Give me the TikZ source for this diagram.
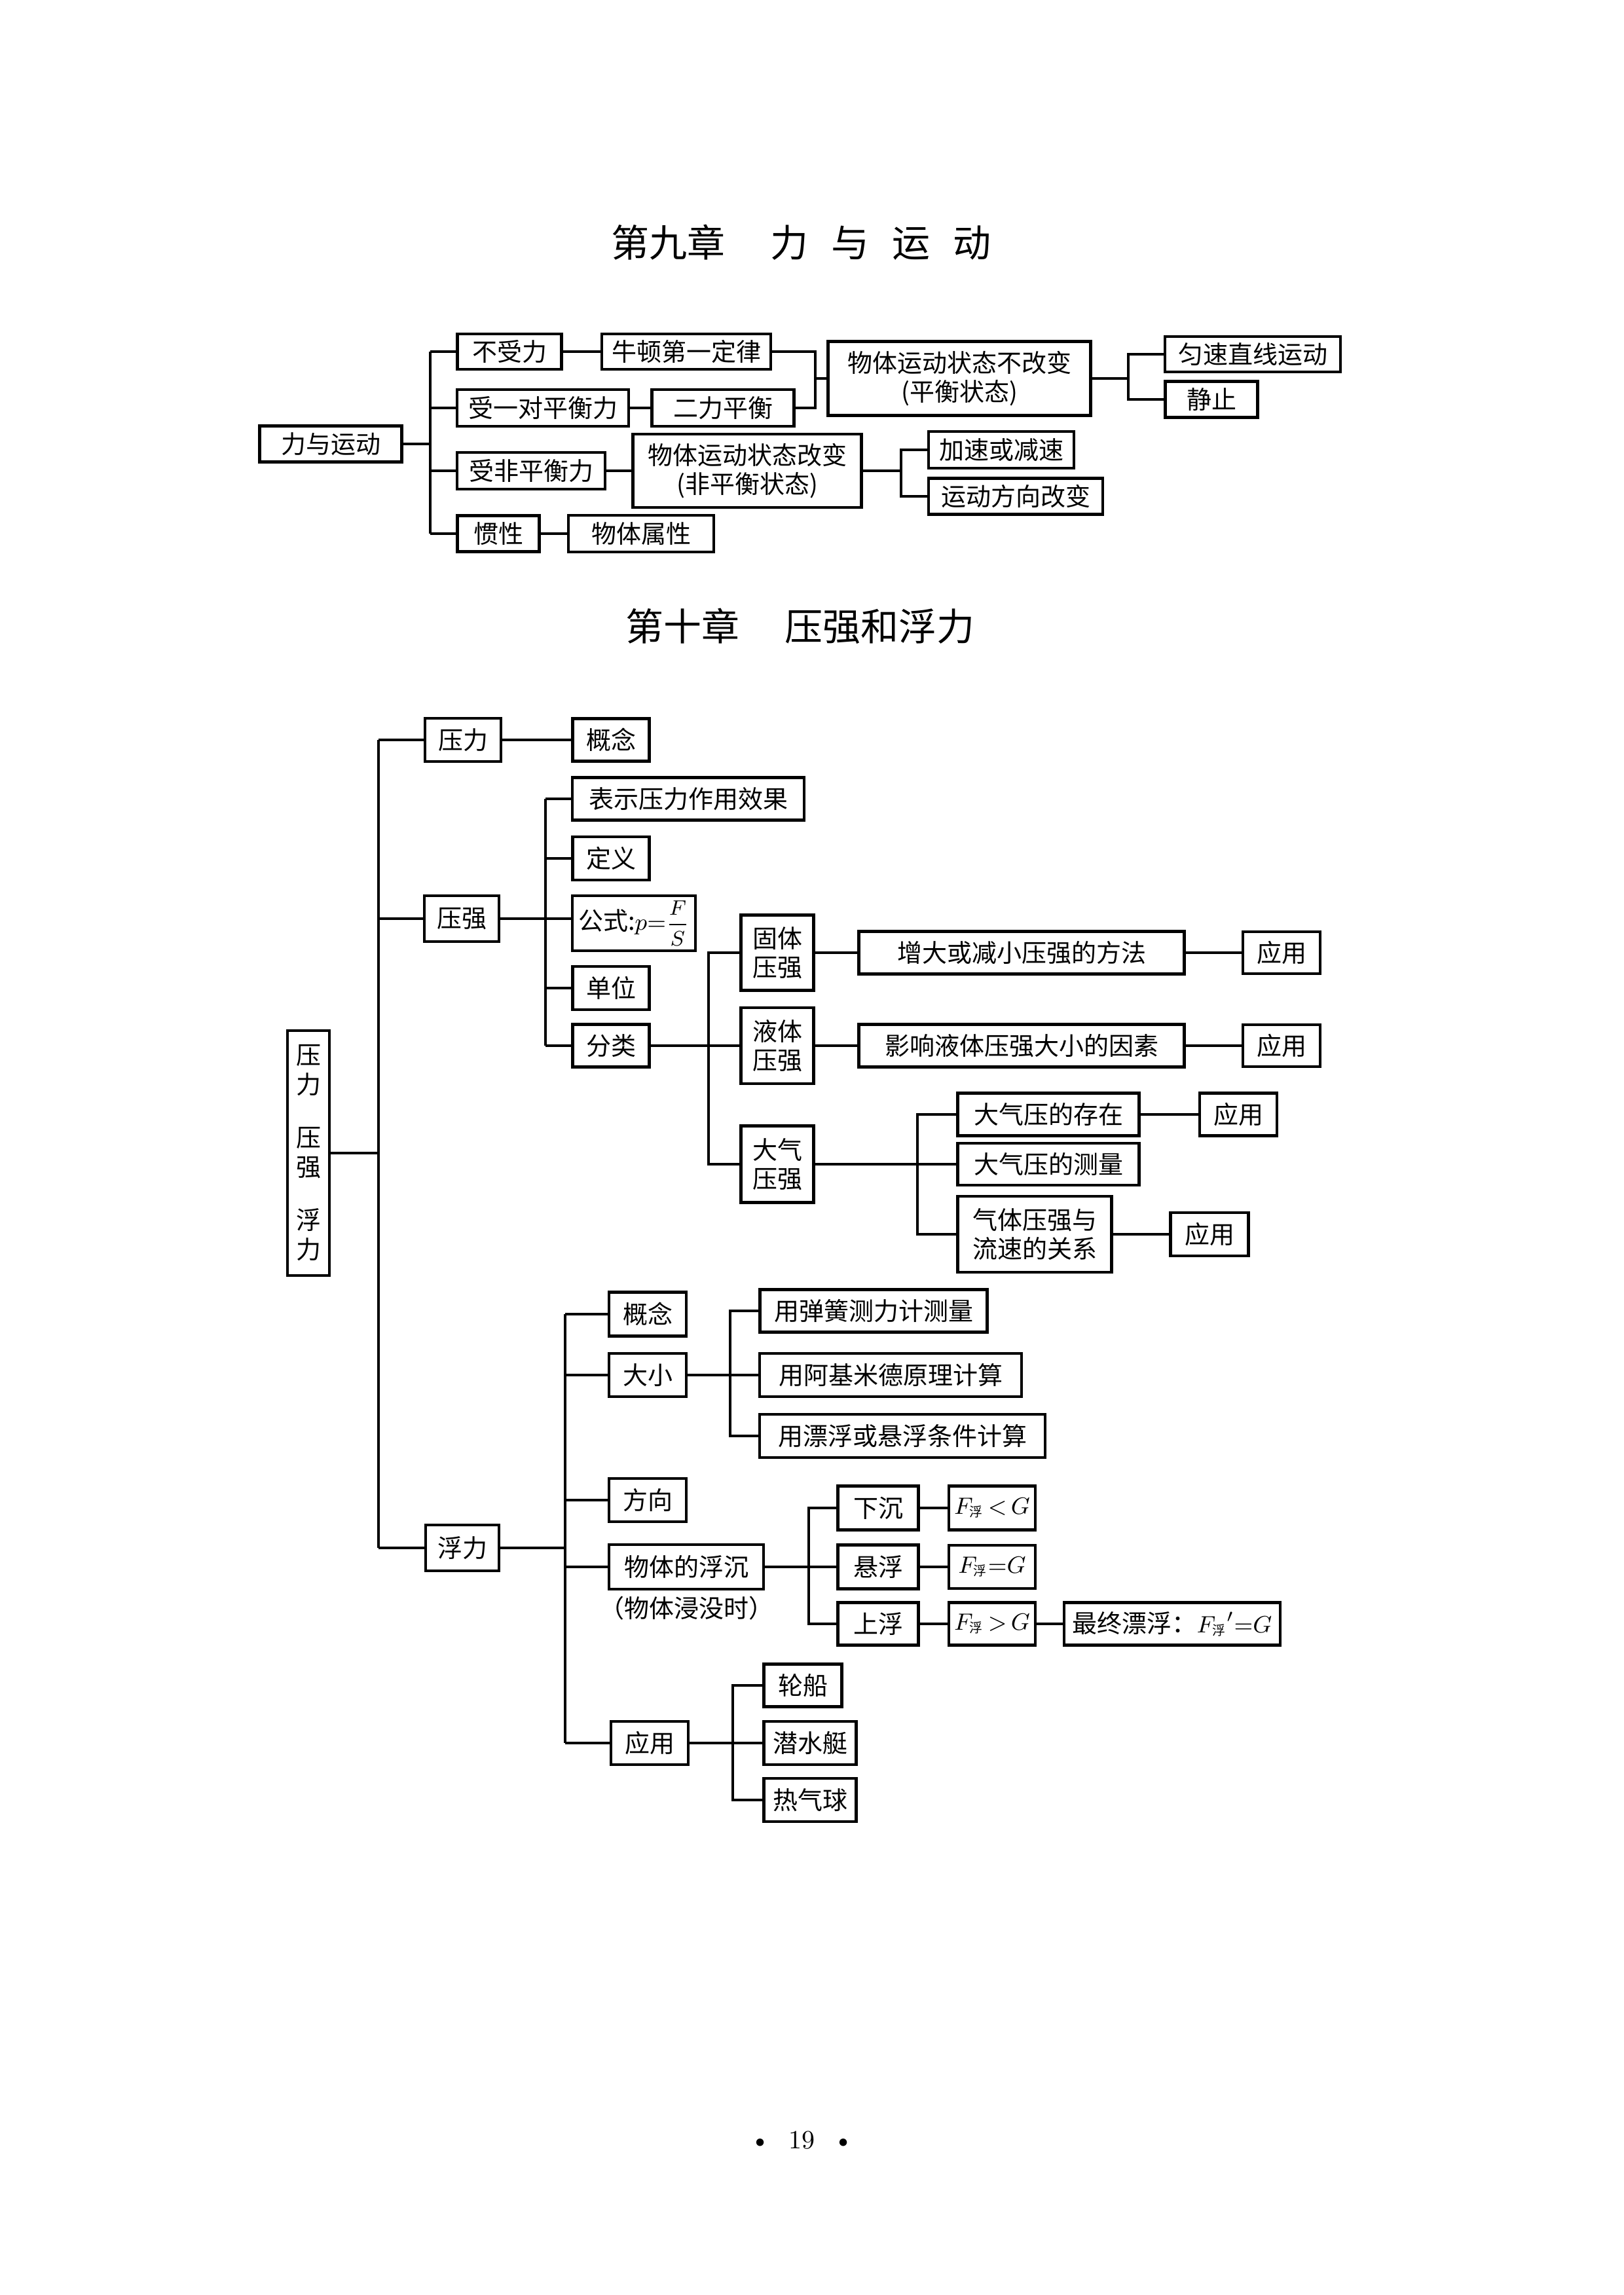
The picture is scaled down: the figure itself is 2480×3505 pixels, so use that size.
\documentclass[tikz,border=0pt]{standalone}
\usepackage{amsmath}
\usepackage{fontspec}
\usetikzlibrary{positioning, calc}
\newfontfamily\cjk{Noto Sans CJK SC}
\newcommand\fsub{\hbox{\cjk\fontsize{5}{6}\selectfont 浮}}
\tikzset{
    mapbox/.style={rectangle, draw=black, line width=1.1pt, inner sep=0pt, align=center, font=\cjk\fontsize{9.5}{11}\selectfont},
    sz/.style 2 args={minimum width=#1*0.25pt, minimum height=#2*0.25pt},
    link/.style={line width=0.8pt, black},
    chaptitle/.style={font=\cjk\fontsize{14.5}{17}\selectfont},
}

\begin{document}
\begin{tikzpicture}[
    x=0.25pt, y=-0.25pt,
    fbox/.style={mapbox, font=\fontsize{9.5}{11}\selectfont},
    note/.style={font=\cjk\fontsize{9.5}{11}\selectfont, inner sep=1pt}
]
\path[use as bounding box, fill=white] (0,0) rectangle (2480,3505);

\node[chaptitle] (t9) at (1223,370) {第九章\hspace{1.2em}力\hspace{0.6em}与\hspace{0.6em}运\hspace{0.6em}动};
\node[chaptitle] (t10) at (1222,956) {第十章\hspace{1.2em}压强和浮力};

% chapter 9
\node[mapbox, sz={217}{55}] (fm) at (505,678) {力与运动};
\node[mapbox, sz={159}{54}] (nof) at (778,537) {不受力};
\node[mapbox, sz={258}{54}] (newton) at (1048,537) {牛顿第一定律};
\node[mapbox, sz={262}{56}] (pair) at (829,623) {受一对平衡力};
\node[mapbox, sz={217}{56}] (twof) at (1104,623) {二力平衡};
\node[mapbox, sz={401}{113}] (keep) at (1465,578) {物体运动状态不改变\\(平衡状态)};
\node[mapbox, sz={268}{54}] (uni) at (1913,541) {匀速直线运动};
\node[mapbox, sz={141}{55}] (rest) at (1850,610) {静止};
\node[mapbox, sz={226}{56}] (unbal) at (811,719) {受非平衡力};
\node[mapbox, sz={349}{112}] (chg) at (1141,719) {物体运动状态改变\\(非平衡状态)};
\node[mapbox, sz={222}{56}] (acc) at (1529,687) {加速或减速};
\node[mapbox, sz={266}{55}] (turn) at (1551,758) {运动方向改变};
\node[mapbox, sz={125}{55}] (iner) at (761,815) {惯性};
\node[mapbox, sz={222}{56}] (prop) at (979,815) {物体属性};

\coordinate (k9) at (657,0);
\coordinate (k12) at (1245,0);
\coordinate (k13) at (1723,0);
\coordinate (k14) at (1376,0);
\draw[link] (fm.east) -- (k9 |- fm);
\draw[link] (k9 |- nof) -- (k9 |- iner);
\foreach \n in {nof, pair, unbal, iner}
    \draw[link] (k9 |- \n) -- (\n.west);
\draw[link] (nof) -- (newton);
\draw[link] (pair) -- (twof);
\draw[link] (unbal) -- (chg);
\draw[link] (iner) -- (prop);
\draw[link] (newton.east) -| (k12 |- twof) -- (twof.east);
\draw[link] (k12 |- keep) -- (keep.west);
\draw[link] (keep.east) -- (k13 |- keep);
\draw[link] (uni.west) -| (k13 |- rest) -- (rest.west);
\draw[link] (chg.east) -- (k14 |- chg);
\draw[link] (acc.west) -| (k14 |- turn) -- (turn.west);

% chapter 10
\node[mapbox, sz={64}{374}, font=\cjk\fontsize{9.5}{11.25}\selectfont] (root) at (471,1761) {压\\力\\[9pt]压\\强\\[9pt]浮\\力};

\node[mapbox, sz={116}{66}] (force) at (707,1130) {压力};
\node[mapbox, sz={117}{65}] (fcon) at (933,1130) {概念};

\node[mapbox, sz={114}{70}] (press) at (705,1403) {压强};
\node[mapbox, sz={354}{65}] (pshow) at (1051,1220) {表示压力作用效果};
\node[mapbox, sz={117}{66}] (pdef) at (933,1311) {定义};
\node[mapbox, sz={188}{84}] (pform) at (968,1410) {公式:{\fontsize{9.5}{11}\selectfont$p{=}$}{\fontsize{8.5}{10}\selectfont$\dfrac{F}{S}$}};
\node[mapbox, sz={117}{66}] (punit) at (933,1509) {单位};
\node[mapbox, sz={117}{65}] (pcls) at (933,1597) {分类};

\node[mapbox, sz={111}{115}] (solid) at (1187,1455) {固体\\压强};
\node[mapbox, sz={111}{116}] (liquid) at (1187,1597) {液体\\压强};
\node[mapbox, sz={111}{117}] (air) at (1187,1778) {大气\\压强};
\node[mapbox, sz={497}{65}] (sway) at (1560,1455) {增大或减小压强的方法};
\node[mapbox, sz={118}{64}] (sapp) at (1957,1455) {应用};
\node[mapbox, sz={497}{65}] (lfac) at (1560,1597) {影响液体压强大小的因素};
\node[mapbox, sz={118}{64}] (lapp) at (1957,1597) {应用};
\node[mapbox, sz={277}{65}] (aexist) at (1601,1702) {大气压的存在};
\node[mapbox, sz={118}{65}] (aapp) at (1891,1702) {应用};
\node[mapbox, sz={277}{64}] (ameas) at (1601,1778) {大气压的测量};
\node[mapbox, sz={235}{116}] (agas) at (1580,1885) {气体压强与\\流速的关系};
\node[mapbox, sz={119}{66}] (gapp) at (1847,1885) {应用};

\node[mapbox, sz={112}{70}] (float) at (706,2364) {浮力};
\node[mapbox, sz={118}{67}] (bcon) at (989,2007) {概念};
\node[mapbox, sz={118}{66}] (bsize) at (989,2100) {大小};
\node[mapbox, sz={347}{65}] (spring) at (1334,2002) {用弹簧测力计测量};
\node[mapbox, sz={400}{66}] (arch) at (1360,2100) {用阿基米德原理计算};
\node[mapbox, sz={436}{66}] (cond) at (1378,2193) {用漂浮或悬浮条件计算};
\node[mapbox, sz={118}{66}] (bdir) at (989,2291) {方向};
\node[mapbox, sz={236}{68}] (bsink) at (1048,2393) {物体的浮沉};
\node[note, below=1pt of bsink] (bnote) {（物体浸没时）};
\node[mapbox, sz={123}{67}] (down) at (1341,2303) {下沉};
\node[mapbox, sz={123}{67}] (hang) at (1341,2393) {悬浮};
\node[mapbox, sz={123}{65}] (up) at (1341,2480) {上浮};
\node[fbox, sz={132}{67}] (fless) at (1515,2303) {$F_{\fsub}\,{<}\,G$};
\node[fbox, sz={132}{66}] (feq) at (1515,2393) {$F_{\fsub}{=}G$};
\node[fbox, sz={132}{65}] (fmore) at (1515,2480) {$F_{\fsub}\,{>}\,G$};
\node[mapbox, sz={330}{65}] (final) at (1790,2480) {最终漂浮：{\fontsize{9.5}{11}\selectfont$F_{\fsub}{}'{=}G$}};
\node[mapbox, sz={118}{66}] (bapp) at (992,2662) {应用};
\node[mapbox, sz={119}{65}] (ship) at (1226,2574) {轮船};
\node[mapbox, sz={141}{66}] (sub) at (1237,2662) {潜水艇};
\node[mapbox, sz={141}{66}] (balloon) at (1237,2749) {热气球};

\coordinate (k20) at (578,0);
\coordinate (k21) at (833,0);
\coordinate (k22) at (1082,0);
\coordinate (k23) at (1401,0);
\coordinate (k24) at (863,0);
\coordinate (k25) at (1115,0);
\coordinate (k26) at (1235,0);
\coordinate (k27) at (1119,0);

\draw[link] (root.east) -- (k20 |- root);
\draw[link] (k20 |- force) -- (k20 |- float);
\foreach \n in {force, press, float}
    \draw[link] (k20 |- \n) -- (\n.west);
\draw[link] (force) -- (fcon);

\draw[link] (press.east) -- (pform.west |- press);
\draw[link] (k21 |- pshow) -- (k21 |- pcls);
\foreach \n in {pshow, pdef, punit, pcls}
    \draw[link] (k21 |- \n) -- (\n.west);

\draw[link] (pcls.east) -- (liquid.west);
\draw[link] (solid.west) -| (k22 |- air) -- (air.west);
\draw[link] (solid) -- (sway);
\draw[link] (sway) -- (sapp);
\draw[link] (liquid) -- (lfac);
\draw[link] (lfac) -- (lapp);
\draw[link] (air.east) -- (ameas.west);
\draw[link] (aexist.west) -| (k23 |- agas) -- (agas.west);
\draw[link] (aexist) -- (aapp);
\draw[link] (agas) -- (gapp);

\draw[link] (float.east) -- (k24 |- float);
\draw[link] (k24 |- bcon) -- (k24 |- bapp);
\foreach \n in {bcon, bsize, bdir, bsink, bapp}
    \draw[link] (k24 |- \n) -- (\n.west);
\draw[link] (bsize.east) -- (arch.west);
\draw[link] (spring.west) -| (k25 |- cond) -- (cond.west);
\draw[link] (bsink.east) -- (hang.west);
\draw[link] (down.west) -| (k26 |- up) -- (up.west);
\draw[link] (down) -- (fless);
\draw[link] (hang) -- (feq);
\draw[link] (up) -- (fmore);
\draw[link] (fmore) -- (final);
\draw[link] (bapp.east) -- (sub.west);
\draw[link] (ship.west) -| (k27 |- balloon) -- (balloon.west);

\node[font=\fontsize{10}{12}\selectfont] (pg) at (1225,3269) {\textbullet\hspace{0.7em}19\hspace{0.7em}\textbullet};
\end{tikzpicture}
\end{document}
